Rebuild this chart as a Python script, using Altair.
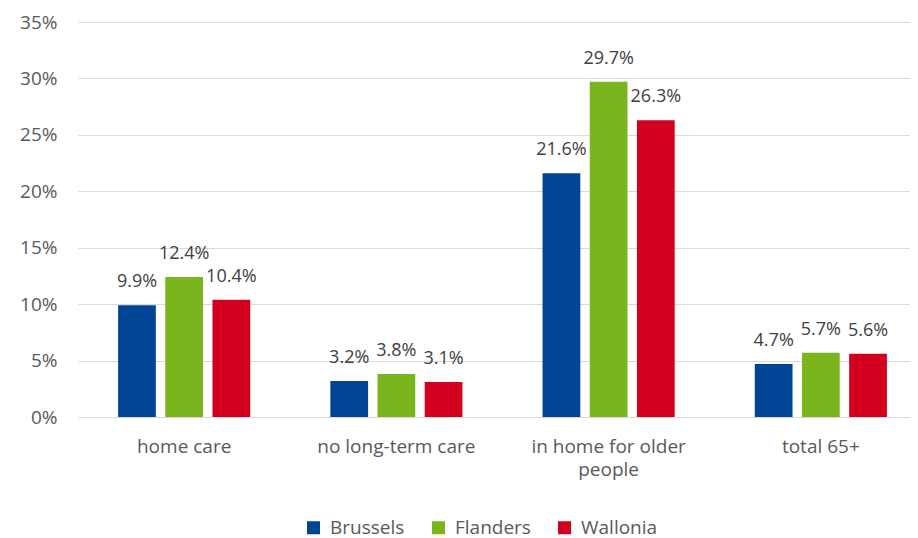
import altair as alt
import pandas as pd

categories = ["home care", "no long-term care", "in home for older people", "total 65+"]
regions = ["Brussels", "Flanders", "Wallonia"]
brussels = [0.099, 0.032, 0.216, 0.047]
flanders = [0.124, 0.038, 0.297, 0.057]
wallonia = [0.104, 0.031, 0.263, 0.056]
colors = ["#004494", "#7AB51D", "#D2001E"]

rows = []
for series, vals in zip(regions, [brussels, flanders, wallonia]):
    for c, v in zip(categories, vals):
        rows.append({"category": c, "region": series, "value": v})
df = pd.DataFrame(rows)

FONT = "Open Sans"

x = alt.X(
    "category:N",
    sort=categories,
    title=None,
    scale=alt.Scale(range=[0, 849], paddingInner=0.333, paddingOuter=0.1667),
    axis=alt.Axis(
        labelAngle=0,
        labelFontSize=19,
        labelColor="#595959",
        labelFont=FONT,
        labelPadding=20,
        labelLineHeight=23,
        ticks=False,
        domain=False,
        labelExpr="datum.label == 'in home for older people' ? ['in home for older', 'people'] : datum.label",
    ),
)
xoff = alt.XOffset(
    "region:N",
    sort=regions,
    scale=alt.Scale(paddingInner=0.2, paddingOuter=0.1),
)
y = alt.Y(
    "value:Q",
    title=None,
    scale=alt.Scale(domain=[0, 0.35], nice=False),
    axis=alt.Axis(
        format=".0%",
        values=[0, 0.05, 0.10, 0.15, 0.20, 0.25, 0.30, 0.35],
        labelFontSize=19,
        labelColor="#595959",
        labelFont=FONT,
        labelPadding=21,
        ticks=False,
        domain=False,
        grid=True,
        gridColor="#D9D9D9",
        gridWidth=1,
    ),
)
color = alt.Color(
    "region:N",
    sort=regions,
    scale=alt.Scale(domain=regions, range=colors),
    legend=alt.Legend(
        title=None,
        orient="none",
        direction="horizontal",
        legendX=226,
        legendY=496,
        symbolType="square",
        symbolSize=169,
        symbolStrokeWidth=0,
        labelFontSize=19,
        labelFont=FONT,
        labelColor="#595959",
        labelOffset=7,
        columnPadding=24,
    ),
)

bars = alt.Chart(df).mark_bar().encode(x=x, xOffset=xoff, y=y, color=color)
labels = alt.Chart(df).mark_text(
    baseline="alphabetic", dy=-18, fontSize=18, font=FONT, color="#404040"
).encode(x=x, xOffset=xoff, y=y, text=alt.Text("value:Q", format=".1%"))

chart = (
    alt.layer(bars, labels)
    .properties(
        width=832,
        height=395,
        autosize=alt.AutoSizeParams(type="none"),
        padding={"left": 70, "top": 14, "right": 0, "bottom": 120},
    )
    .configure_view(stroke=None)
)

chart.save("out.html", embed_options={"renderer": "svg", "actions": False})
